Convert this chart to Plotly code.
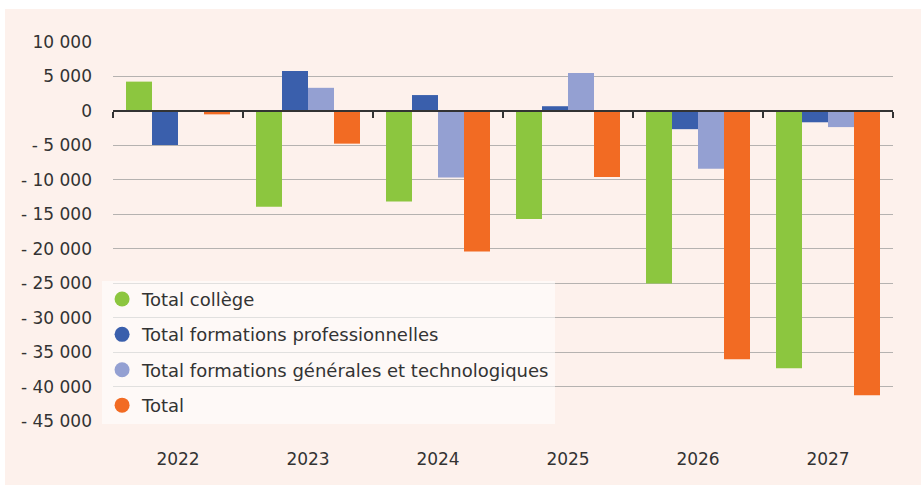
import plotly.graph_objects as go

years = ["2022", "2023", "2024", "2025", "2026", "2027"]
series_names = [
    "Total collège",
    "Total formations professionnelles",
    "Total formations générales et technologiques",
    "Total",
]
college = [4250, -13900, -13150, -15700, -25050, -37350]
pro = [-4950, 5800, 2300, 680, -2650, -1650]
gen_tech = [120, 3350, -9650, 5500, -8400, -2350]
total = [-500, -4750, -20400, -9600, -36050, -41250]
colors = ["#8cc63f", "#3a5fac", "#94a0d2", "#f26b23"]

ytick_vals = [10000, 5000, 0, -5000, -10000, -15000, -20000, -25000, -30000, -35000, -40000, -45000]
ytick_text = ["10 000", "5 000", "0", "- 5 000", "- 10 000", "- 15 000", "- 20 000",
              "- 25 000", "- 30 000", "- 35 000", "- 40 000", "- 45 000"]

FONT = "DejaVu Sans"
fig = go.Figure()
for name, vals, col in zip(series_names, [college, pro, gen_tech, total], colors):
    fig.add_trace(go.Bar(x=years, y=vals, name=name, marker=dict(color=col, line=dict(width=0)),
                         showlegend=False))
# legend entries with round markers
for i, (name, col) in enumerate(zip(series_names, colors)):
    fig.add_trace(go.Scatter(x=[years[0]], y=[None], mode="markers", name=name,
                             marker=dict(color=col, size=15, symbol="circle"),
                             legendgroup=str(i), showlegend=True))
# invisible trace for the zero-line axis with boundary ticks
fig.add_trace(go.Scatter(x=years, y=[0] * len(years), xaxis="x2", mode="markers",
                         marker=dict(opacity=0), showlegend=False, hoverinfo="skip"))

ymin, ymax = -45000, 10000
fig.update_layout(
    width=921, height=485,
    margin=dict(l=113, r=28, t=42, b=64),
    paper_bgcolor="white",
    plot_bgcolor="rgba(0,0,0,0)",
    barmode="group", bargap=0.2, bargroupgap=0,
    font=dict(family=FONT, color="#333333", size=17),
    xaxis=dict(type="category", categoryorder="array", categoryarray=years,
               showgrid=False, zeroline=False, showline=False, ticks="",
               ticklabelstandoff=26, tickfont=dict(size=17, color="#333333")),
    xaxis2=dict(type="category", categoryorder="array", categoryarray=years,
                overlaying="x", matches="x", anchor="free",
                position=(0 - ymin) / (ymax - ymin), side="bottom",
                showline=True, linecolor="#333333", linewidth=1.5,
                ticks="outside", tickson="boundaries", ticklen=6, tickwidth=1.5,
                tickcolor="#333333", showticklabels=False, showgrid=False),
    yaxis=dict(range=[ymin, ymax], tickvals=ytick_vals, ticktext=ytick_text,
               showgrid=True, gridcolor="#b5b2b0", gridwidth=1, zeroline=False,
               ticklabelstandoff=20, tickfont=dict(size=17, color="#333333")),
    legend=dict(x=-0.014, y=0.37, xanchor="left", yanchor="top",
                bgcolor="rgba(255,255,255,0.6)", borderwidth=0,
                font=dict(size=18, color="#333333"),
                traceorder="grouped", tracegroupgap=9, itemsizing="trace"),
    shapes=[dict(type="rect", xref="paper", yref="paper", layer="below",
                 x0=-108 / 780, x1=1.1, y0=-0.2, y1=1 + 33 / 379,
                 fillcolor="#fdf1ec", line=dict(width=0))],
)
fig.write_html("out.html", config={"displayModeBar": False},
               post_script="document.body.style.margin='0';")
